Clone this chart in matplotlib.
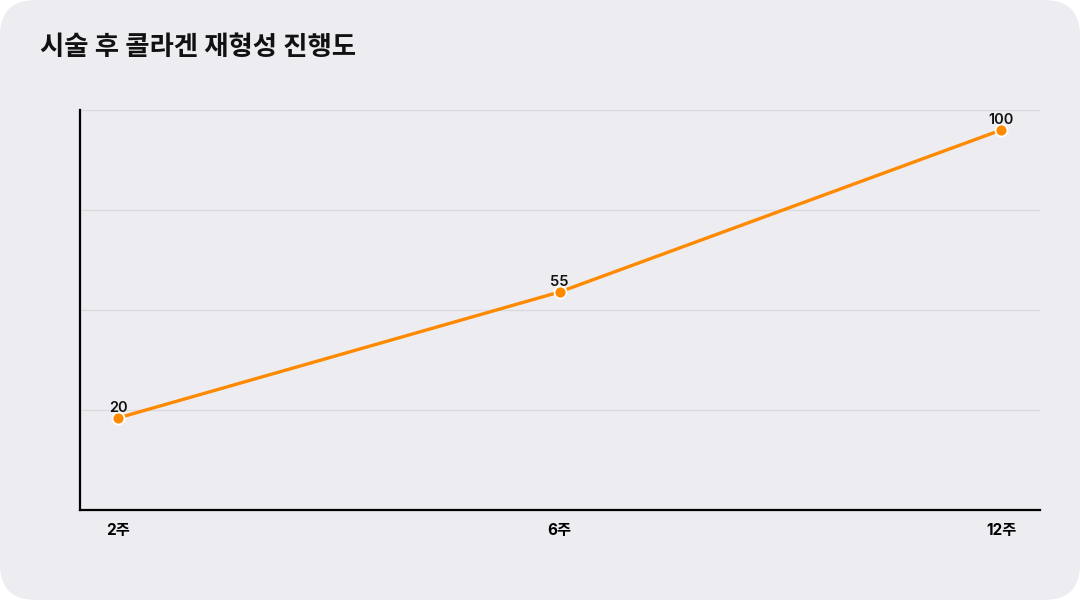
import matplotlib
matplotlib.use("Agg")
import matplotlib.pyplot as plt
from matplotlib.patches import FancyBboxPatch
import numpy as np

plt.rcParams['font.family'] = ['Inter', 'Noto Sans CJK KR', 'DejaVu Sans']

title = "시술 후 콜라겐 재형성 진행도"
categories = ["2주", "6주", "12주"]
values = [20, 55, 100]

BG = "#EDECF1"
LINE = "#FF8A00"

fig = plt.figure(figsize=(10.8, 6.0), dpi=100)
fig.patch.set_facecolor("white")
bg = FancyBboxPatch((0, 0), 1, 1, boxstyle="round,pad=0,rounding_size=0.033",
                    transform=fig.transFigure, facecolor=BG, edgecolor="none",
                    mutation_aspect=1.8, zorder=-10)
fig.patches.append(bg)

ax = fig.add_axes([80/1080, 90/600, 960/1080, 400/600])
ax.set_facecolor("none")

x = np.arange(len(categories))
ax.plot(x, values, color=LINE, lw=2.4, zorder=3)
ax.scatter(x, values, s=75, color=LINE, edgecolor="white", linewidth=1.3, zorder=4)
for xi, v in zip(x, values):
    ax.annotate(f"{v}", (xi, v), xytext=(0, 2.5), textcoords="offset points",
                ha="center", va="bottom", fontsize=10.5, fontweight="semibold",
                color="#111111", zorder=5)

ylo, yhi = -5.56, 105.56
ax.set_ylim(ylo, yhi)
ax.set_xlim(-0.086, 2.088)
ax.set_yticks(np.linspace(ylo, yhi, 5)[1:])
ax.set_yticklabels([])
ax.grid(axis="y", color="#D9D9DD", lw=0.9)
ax.set_axisbelow(True)
ax.tick_params(axis="y", length=0)
ax.set_xticks(x)
ax.set_xticklabels(categories, fontsize=11, fontweight="bold")
ax.tick_params(axis="x", length=0, pad=9)
for s in ["top", "right"]:
    ax.spines[s].set_visible(False)
for s in ["left", "bottom"]:
    ax.spines[s].set_color("black")
    ax.spines[s].set_linewidth(1.6)

fig.text(40/1080, 1 - 48/600, title, fontsize=19, fontweight="bold",
         ha="left", va="center", color="#111111")

fig.savefig("out.png", dpi=100, facecolor=fig.get_facecolor())
